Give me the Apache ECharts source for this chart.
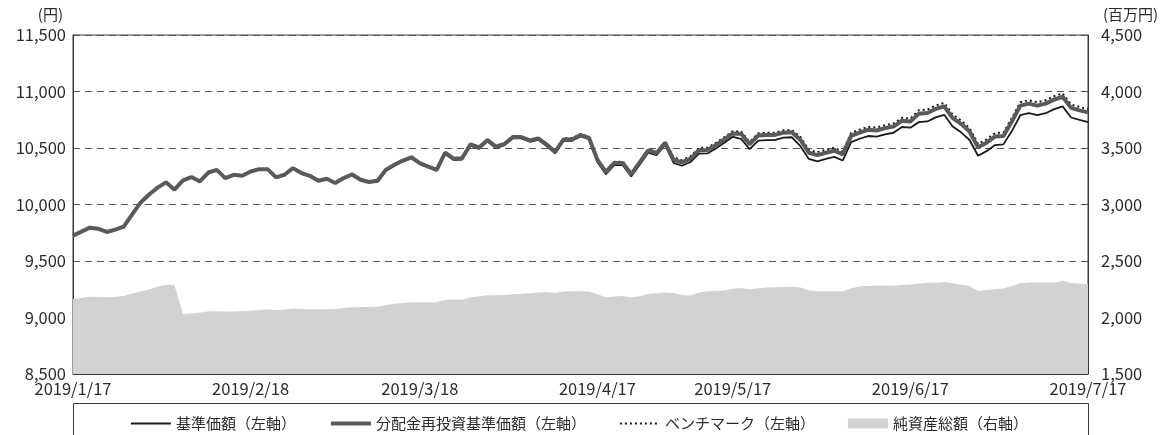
<!DOCTYPE html>
<html><head><meta charset="utf-8">
<script src="https://cdn.jsdelivr.net/npm/echarts@6/dist/echarts.min.js"></script>
<style>html,body{margin:0;padding:0;background:#fff;}#c{width:1174px;height:435px;}</style>
</head><body><div id="c"></div>
<script>
const dates = ['2019/1/17','2019/1/18','2019/1/21','2019/1/22','2019/1/23','2019/1/24','2019/1/25','2019/1/28','2019/1/29','2019/1/30','2019/1/31',
'2019/2/1','2019/2/4','2019/2/5','2019/2/6','2019/2/7','2019/2/8','2019/2/12','2019/2/13','2019/2/14','2019/2/15','2019/2/18','2019/2/19','2019/2/20','2019/2/21','2019/2/22','2019/2/25','2019/2/26','2019/2/27','2019/2/28',
'2019/3/1','2019/3/4','2019/3/5','2019/3/6','2019/3/7','2019/3/8','2019/3/11','2019/3/12','2019/3/13','2019/3/14','2019/3/15','2019/3/18','2019/3/19','2019/3/20','2019/3/22','2019/3/25','2019/3/26','2019/3/27','2019/3/28','2019/3/29',
'2019/4/1','2019/4/2','2019/4/3','2019/4/4','2019/4/5','2019/4/8','2019/4/9','2019/4/10','2019/4/11','2019/4/12','2019/4/15','2019/4/16','2019/4/17','2019/4/18','2019/4/19','2019/4/22','2019/4/23','2019/4/24','2019/4/25','2019/4/26',
'2019/5/7','2019/5/8','2019/5/9','2019/5/10','2019/5/13','2019/5/14','2019/5/15','2019/5/16','2019/5/17','2019/5/20','2019/5/21','2019/5/22','2019/5/23','2019/5/24','2019/5/27','2019/5/28','2019/5/29','2019/5/30','2019/5/31',
'2019/6/3','2019/6/4','2019/6/5','2019/6/6','2019/6/7','2019/6/10','2019/6/11','2019/6/12','2019/6/13','2019/6/14','2019/6/17','2019/6/18','2019/6/19','2019/6/20','2019/6/21','2019/6/24','2019/6/25','2019/6/26','2019/6/27','2019/6/28',
'2019/7/1','2019/7/2','2019/7/3','2019/7/4','2019/7/5','2019/7/8','2019/7/9','2019/7/10','2019/7/11','2019/7/12','2019/7/16','2019/7/17'];

const tickDates = ['2019/1/17','2019/2/18','2019/3/18','2019/4/17','2019/5/17','2019/6/17','2019/7/17'];

// 基準価額（左軸）
const navPrice = [9725,9760,9795,9785,9757,9778,9804,9912,10018,10088,10149,10196,10131,10213,10243,10204,10283,10307,10234,10263,
10254,10292,10313,10313,10240,10263,10322,10278,10254,10210,10228,10190,10234,10266,10219,10199,10202,10299,10343,10381,
10410,10358,10328,10299,10447,10393,10397,10521,10493,10558,10500,10524,10585,10585,10555,10573,10518,10454,10564,10564,
10602,10578,10375,10268,10348,10348,10248,10353,10459,10436,10527,10368,10343,10376,10451,10452,10496,10546,10599,10581,
10489,10565,10569,10571,10591,10595,10516,10403,10382,10403,10421,10389,10552,10582,10606,10600,10621,10635,10686,10680,
10729,10735,10771,10794,10690,10639,10571,10431,10472,10526,10532,10650,10790,10808,10790,10808,10844,10868,10770,10748,10730];

// 分配金再投資基準価額（左軸）
const reinvested = [9725,9760,9795,9785,9757,9778,9804,9912,10018,10088,10149,10196,10131,10213,10243,10204,10283,10307,10234,10263,
10254,10292,10313,10313,10240,10263,10322,10278,10254,10210,10228,10190,10234,10266,10219,10199,10210,10307,10351,10389,
10418,10366,10336,10307,10459,10405,10409,10533,10505,10570,10512,10536,10597,10597,10567,10585,10530,10466,10576,10576,
10614,10590,10395,10288,10368,10368,10268,10373,10479,10456,10547,10398,10373,10406,10481,10482,10526,10576,10629,10626,
10534,10610,10614,10616,10636,10640,10571,10458,10437,10458,10476,10444,10607,10637,10661,10655,10676,10690,10741,10735,
10804,10810,10846,10869,10765,10714,10646,10506,10547,10601,10607,10735,10875,10893,10875,10893,10929,10953,10855,10833,10815];

// ベンチマーク（左軸）
const benchmark = [9725,9760,9795,9785,9757,9778,9804,9912,10018,10088,10149,10196,10131,10213,10243,10204,10283,10307,10234,10263,
10254,10292,10313,10313,10240,10263,10322,10278,10254,10210,10228,10190,10234,10266,10219,10199,10210,10307,10351,10389,
10418,10370,10340,10311,10463,10409,10413,10537,10509,10574,10516,10540,10601,10601,10571,10589,10540,10476,10586,10586,
10624,10600,10405,10298,10378,10378,10278,10383,10489,10466,10557,10418,10393,10426,10501,10502,10546,10596,10649,10646,
10554,10630,10634,10636,10656,10660,10597,10484,10463,10484,10502,10470,10633,10663,10687,10681,10702,10716,10767,10761,
10834,10840,10876,10899,10795,10744,10676,10536,10577,10631,10637,10765,10905,10923,10905,10923,10959,10983,10885,10863,10845];

// 純資産総額（右軸, 百万円）
const netAssets = [2164,2175,2184,2182,2179,2184,2190,2212,2230,2248,2272,2290,2285,2031,2036,2042,2055,2056,2052,2054,
2057,2060,2066,2072,2066,2068,2079,2075,2072,2072,2072,2076,2084,2090,2092,2094,2096,2110,2122,2128,
2136,2136,2135,2134,2158,2160,2158,2180,2188,2196,2197,2200,2206,2209,2214,2221,2225,2214,2230,2233,
2235,2230,2205,2180,2185,2190,2178,2188,2207,2215,2222,2216,2196,2194,2222,2232,2234,2240,2255,2261,
2250,2258,2266,2268,2270,2273,2265,2238,2232,2233,2233,2230,2258,2275,2282,2282,2282,2282,2288,2292,
2300,2307,2308,2315,2304,2290,2278,2235,2244,2250,2257,2278,2302,2309,2310,2310,2310,2325,2306,2300,2295];

const leftTicks = {min: 8500, max: 11500, interval: 500};
const rightTicks = {min: 1500, max: 4500, interval: 500};

const FONT = '"Noto Sans CJK JP", "Noto Sans", sans-serif';
const TXT = '#2b2b2b';
const GL = 73, GR = 1088, GT = 35, GB = 374;
const NUMSIZE = 16.5;

const chart = echarts.init(document.getElementById('c'), null, {renderer: 'canvas'});
const fmt = v => v.toLocaleString('en-US');
const isTick = (i, v) => tickDates.indexOf(v) >= 0;
const noSym = {opacity: 0, color: 'rgba(0,0,0,0)', borderWidth: 0};

chart.setOption({
  animation: false,
  backgroundColor: '#fff',
  textStyle: {fontFamily: FONT, color: TXT},
  grid: {left: GL, right: 1174 - GR, top: GT, bottom: 435 - GB, show: true, borderColor: '#3a3a3a', borderWidth: 1, containLabel: false},
  xAxis: {
    type: 'category', data: dates, boundaryGap: false,
    axisLine: {show: true, lineStyle: {color: '#3a3a3a', width: 1}},
    axisTick: {show: true, inside: true, length: 6, interval: isTick, lineStyle: {color: '#3a3a3a'}},
    axisLabel: {interval: isTick, showMinLabel: true, showMaxLabel: true, fontSize: NUMSIZE, color: TXT, margin: 6, fontFamily: FONT},
    splitLine: {show: false}
  },
  yAxis: [
    {type: 'value', min: leftTicks.min, max: leftTicks.max, interval: leftTicks.interval, position: 'left',
     axisLine: {show: true, lineStyle: {color: '#3a3a3a', width: 1}}, axisTick: {show: false},
     axisLabel: {formatter: fmt, fontSize: NUMSIZE, color: TXT, margin: 7, fontFamily: FONT},
     splitLine: {show: true, lineStyle: {color: '#555', width: 1, type: [7, 5]}}},
    {type: 'value', min: rightTicks.min, max: rightTicks.max, interval: rightTicks.interval, position: 'right',
     axisLine: {show: true, lineStyle: {color: '#3a3a3a', width: 1}}, axisTick: {show: false},
     axisLabel: {formatter: fmt, fontSize: NUMSIZE, color: TXT, margin: 13, fontFamily: FONT},
     splitLine: {show: false}}
  ],
  legend: {
    orient: 'horizontal', left: 130, top: 416, width: 960, itemWidth: 40, itemHeight: 10, itemGap: 33, padding: 0,
    textStyle: {fontSize: 15, color: TXT, fontFamily: FONT},
    selectedMode: false,
    data: [
      {name: '基準価額（左軸）', itemStyle: noSym, lineStyle: {color: '#1a1a1a', width: 1.8}},
      {name: '分配金再投資基準価額（左軸）', itemStyle: noSym, lineStyle: {color: '#5a5a5a', width: 4}},
      {name: 'ベンチマーク（左軸）', itemStyle: noSym, lineStyle: {color: '#1a1a1a', width: 2, type: [2, 3]}},
      {name: '純資産総額（右軸）', icon: 'rect', itemStyle: {color: '#d1d2d4'}}
    ]
  },
  graphic: [
    {type: 'rect', shape: {x: GL + 0.5, y: 403.5, width: GR - GL, height: 60}, style: {fill: 'none', stroke: '#3a3a3a', lineWidth: 1}, silent: true, z: 0},
    {type: 'text', x: 63, y: 14, style: {text: '(円)', fill: TXT, font: '15px ' + FONT, textAlign: 'right', textVerticalAlign: 'middle'}},
    {type: 'text', x: 1103, y: 14, style: {text: '(百万円)', fill: TXT, font: '15px ' + FONT, textAlign: 'left', textVerticalAlign: 'middle'}}
  ],
  series: [
    {name: '純資産総額（右軸）', type: 'line', yAxisIndex: 1, data: netAssets, symbol: 'none', z: 1,
     lineStyle: {width: 0, color: '#d1d2d4'}, itemStyle: {color: '#d1d2d4'}, areaStyle: {color: '#d1d2d4', opacity: 1}},
    {name: '基準価額（左軸）', type: 'line', yAxisIndex: 0, data: navPrice, symbol: 'none', z: 3,
     lineStyle: {color: '#1a1a1a', width: 1.8}, itemStyle: {color: '#1a1a1a'}},
    {name: 'ベンチマーク（左軸）', type: 'line', yAxisIndex: 0, data: benchmark, symbol: 'none', z: 3,
     lineStyle: {color: '#1a1a1a', width: 2, type: [2, 3]}, itemStyle: {color: '#1a1a1a'}},
    {name: '分配金再投資基準価額（左軸）', type: 'line', yAxisIndex: 0, data: reinvested, symbol: 'none', z: 4,
     lineStyle: {color: '#5a5a5a', width: 4}, itemStyle: {color: '#5a5a5a'}}
  ]
});
</script></body></html>
